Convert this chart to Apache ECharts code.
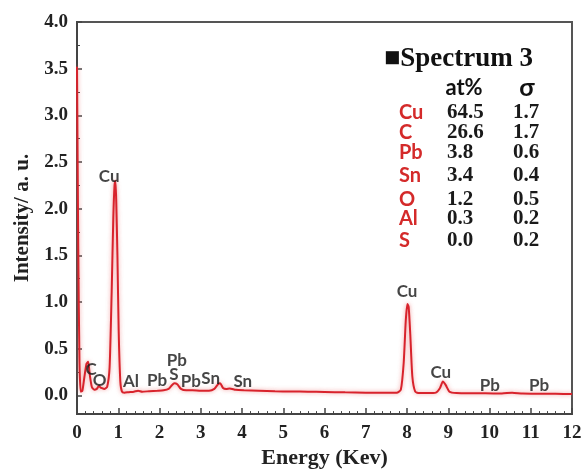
<!DOCTYPE html>
<html>
<head>
<meta charset="utf-8">
<script src="https://cdn.jsdelivr.net/npm/echarts/dist/echarts.min.js"></script>
<style>
html,body{margin:0;padding:0;background:#fff;}
#c{width:587px;height:474px;}
</style>
</head>
<body>
<div id="c"></div>
<script>
// ---- data ----
const energy = [0, 0.03, 0.06, 0.09, 0.13, 0.18, 0.23, 0.27, 0.31, 0.36, 0.42, 0.48, 0.53, 0.59, 0.66, 0.73, 0.79, 0.84, 0.88, 0.91, 0.93, 0.95, 0.98, 1.01, 1.05, 1.09, 1.15, 1.25, 1.38, 1.48, 1.58, 1.75, 1.95, 2.1, 2.22, 2.3, 2.36, 2.43, 2.52, 2.65, 2.8, 3.0, 3.2, 3.33, 3.42, 3.47, 3.54, 3.62, 3.7, 3.85, 4.05, 4.4, 4.8, 5.2, 5.6, 6.0, 6.5, 7.0, 7.4, 7.75, 7.85, 7.92, 7.97, 8.01, 8.04, 8.08, 8.13, 8.2, 8.3, 8.5, 8.7, 8.8, 8.87, 8.94, 9.03, 9.2, 9.5, 9.9, 10.3, 10.55, 10.8, 11.2, 11.6, 12.0];
const intensity = [3.52, 1.6, 0.35, 0.04, 0.05, 0.2, 0.34, 0.36, 0.22, 0.09, 0.06, 0.07, 0.1, 0.08, 0.07, 0.09, 0.3, 1.1, 1.9, 2.25, 2.30, 2.1, 1.5, 0.7, 0.15, 0.04, 0.03, 0.035, 0.04, 0.05, 0.04, 0.045, 0.05, 0.055, 0.07, 0.11, 0.13, 0.12, 0.07, 0.055, 0.055, 0.05, 0.05, 0.07, 0.12, 0.13, 0.08, 0.07, 0.075, 0.06, 0.055, 0.05, 0.045, 0.042, 0.04, 0.037, 0.033, 0.03, 0.028, 0.03, 0.06, 0.35, 0.8, 0.98, 0.95, 0.65, 0.2, 0.04, 0.025, 0.025, 0.03, 0.08, 0.15, 0.11, 0.04, 0.025, 0.022, 0.022, 0.02, 0.03, 0.02, 0.018, 0.017, 0.015];

const peakNames = ['Cu', 'C', 'O', 'Al', 'Pb', 'Pb', 'S', 'Pb', 'Sn', 'Sn', 'Cu', 'Cu', 'Pb', 'Pb'];
const peakX = [0.78, 0.34, 0.55, 1.31, 1.94, 2.42, 2.35, 2.76, 3.24, 4.02, 8.0, 8.82, 10.01, 11.2];
const peakY = [2.35, 0.28, 0.16, 0.15, 0.16, 0.37, 0.22, 0.15, 0.18, 0.15, 1.11, 0.25, 0.11, 0.11];

const tableTitle = 'Spectrum 3';
const tableElements = ['Cu', 'C', 'Pb', 'Sn', 'O', 'Al', 'S'];
const tableAt = ['64.5', '26.6', '3.8', '3.4', '1.2', '0.3', '0.0'];
const tableSigma = ['1.7', '1.7', '0.6', '0.4', '0.5', '0.2', '0.2'];

const xTicks = [0, 1, 2, 3, 4, 5, 6, 7, 8, 9, 10, 11, 12];
const yTicks = [0, 0.5, 1.0, 1.5, 2.0, 2.5, 3.0, 3.5, 4.0];
const yMinorTicks = [0.25, 0.75, 1.25, 1.75, 2.25, 2.75, 3.25, 3.75];

// ---- layout ----
const rowY = [113, 133, 153, 176, 200, 219, 241];
const serif = '"Liberation Serif","Times New Roman",serif';
const sans = 'Lato,"Open Sans",sans-serif';

const lineData = energy.map((e, i) => [e, intensity[i]]);
const peakData = peakNames.map((n, i) => [peakX[i], peakY[i], n]);

const graphics = [];
graphics.push({type: 'text', left: 384, top: 46, style: {text: '\u25A0' + tableTitle, font: 'bold 27px ' + serif, fill: '#111'}});
graphics.push({type: 'text', x: 464, y: 88, style: {text: 'at%', font: 'bold 22px ' + sans, fill: '#111', textAlign: 'center', textVerticalAlign: 'middle'}});
graphics.push({type: 'text', x: 527, y: 88, style: {text: '\u03C3', font: 'bold 25px ' + sans, fill: '#111', textAlign: 'center', textVerticalAlign: 'middle'}});
tableElements.forEach((el, i) => {
  graphics.push({type: 'text', x: 399, y: rowY[i], style: {text: el, font: 'bold 20px ' + sans, fill: '#d42a2a', textAlign: 'left', textVerticalAlign: 'middle'}});
  graphics.push({type: 'text', x: 447, y: rowY[i], style: {text: tableAt[i], font: 'bold 21px ' + serif, fill: '#1a1a1a', textAlign: 'left', textVerticalAlign: 'middle'}});
  graphics.push({type: 'text', x: 513, y: rowY[i], style: {text: tableSigma[i], font: 'bold 21px ' + serif, fill: '#1a1a1a', textAlign: 'left', textVerticalAlign: 'middle'}});
});

const chart = echarts.init(document.getElementById('c'), null, {renderer: 'canvas'});
chart.setOption({
  animation: false,
  backgroundColor: '#fff',
  grid: {left: 77, right: 15, top: 22, bottom: 54, show: true, borderColor: '#555', borderWidth: 2, backgroundColor: 'transparent'},
  xAxis: {
    type: 'value', min: 0, max: 12, interval: 1,
    name: 'Energy (Kev)', nameLocation: 'middle', nameGap: 32,
    nameTextStyle: {fontFamily: serif, fontWeight: 'bold', fontSize: 22, color: '#222'},
    axisLine: {show: true, onZero: false, lineStyle: {color: '#444', width: 2}},
    axisTick: {show: true, inside: true, length: 6, lineStyle: {color: '#444', width: 1.5}},
    minorTick: {show: true, splitNumber: 5, length: 3, lineStyle: {color: '#444', width: 1}},
    axisLabel: {margin: 9, fontFamily: serif, fontWeight: 'bold', fontSize: 19, color: '#222',
      customValues: xTicks},
    splitLine: {show: false}
  },
  yAxis: [{
    type: 'value', min: -0.2, max: 4.0,
    name: 'Intensity/ a. u.', nameLocation: 'middle', nameGap: 44, nameRotate: 90,
    nameTextStyle: {fontFamily: serif, fontWeight: 'bold', fontSize: 21, color: '#222'},
    axisLine: {show: true, onZero: false, lineStyle: {color: '#444', width: 2}},
    axisTick: {show: true, inside: true, length: 5, lineStyle: {color: '#444', width: 1.5}, customValues: yTicks},
    axisLabel: {margin: 9, fontFamily: serif, fontWeight: 'bold', fontSize: 19, color: '#222',
      customValues: yTicks, formatter: v => v.toFixed(1)},
    splitLine: {show: false}
  }, {
    type: 'value', min: -0.2, max: 4.0, position: 'left',
    axisLine: {show: false},
    axisTick: {show: true, inside: true, length: 3, lineStyle: {color: '#444', width: 1}, customValues: yMinorTicks},
    axisLabel: {show: false},
    splitLine: {show: false}
  }],
  graphic: graphics,
  series: [{
    type: 'line',
    data: lineData,
    showSymbol: false,
    smooth: 0.2,
    lineStyle: {color: '#d8232c', width: 2, shadowColor: 'rgba(235,110,110,0.7)', shadowBlur: 4},
    z: 3
  }, {
    type: 'scatter',
    data: peakData,
    symbolSize: 0,
    silent: true,
    label: {show: true, position: 'inside', formatter: p => p.data[2],
      fontFamily: sans, fontWeight: 'bold', fontSize: 17, color: '#161616'},
    z: 4
  }]
});
</script>
</body>
</html>
